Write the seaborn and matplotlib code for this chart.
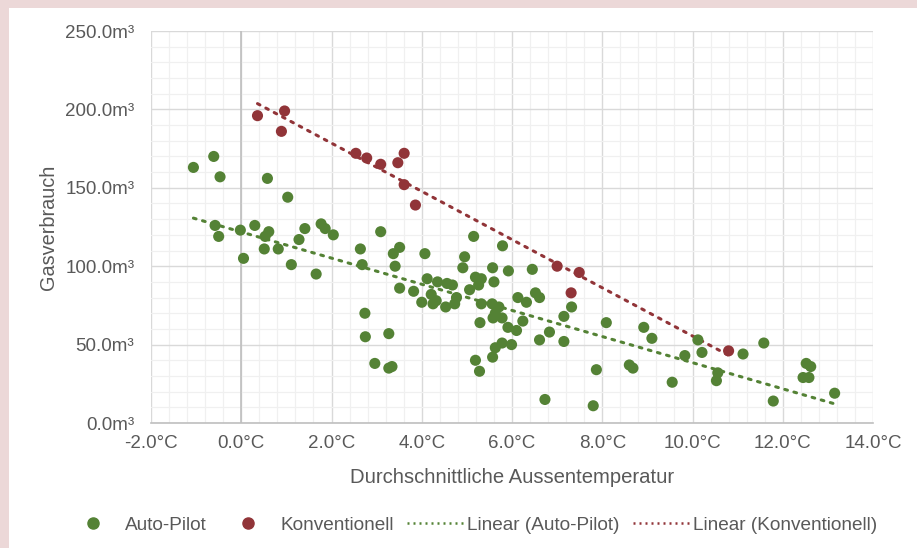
import matplotlib
matplotlib.use("Agg")
import matplotlib.pyplot as plt
from matplotlib.patches import Rectangle
from matplotlib.lines import Line2D
from matplotlib.ticker import FuncFormatter, MultipleLocator
import seaborn as sns
import numpy as np

# ---- data ----
auto_temp = [-1.06, -0.61, -0.47, 0.58, 1.03,
             -0.58, -0.50, -0.02, 0.30, 0.61, 0.53, 0.05, 0.51, 0.82, 1.11, 1.28, 1.41,
             1.66, 1.77, 1.86, 2.04, 2.64, 2.68, 2.74, 2.75, 2.96, 3.09, 3.27, 3.27, 3.34,
             3.37, 3.51, 3.41, 3.51, 3.82, 4.00, 4.07, 4.12, 4.21, 4.25, 4.32, 4.35, 4.53,
             4.56, 4.68, 4.73, 4.77, 4.95, 4.91, 5.06, 5.15, 5.19, 5.26, 5.32, 5.32, 5.29,
             5.19, 5.28, 5.56, 5.57, 5.60, 5.71, 5.58, 5.78, 5.63, 5.79, 5.92, 5.91, 6.10,
             6.13, 6.32, 6.24, 5.63, 5.78, 5.99, 5.57,
             6.45, 6.52, 6.61, 6.61, 6.83, 7.15, 7.32, 7.15, 6.73, 7.87, 7.80, 8.09, 8.60,
             8.68, 8.92, 9.10, 9.55, 9.83, 10.12, 10.21, 10.56, 10.53, 11.12, 11.58, 11.79,
             12.52, 12.62, 12.45, 12.58, 13.15]
auto_gas = [163, 170, 157, 156, 144,
            126, 119, 123, 126, 122, 119, 105, 111, 111, 101, 117, 124,
            95, 127, 124, 120, 111, 101, 70, 55, 38, 122, 57, 35, 36,
            108, 112, 100, 86, 84, 77, 108, 92, 82, 76, 78, 90, 74,
            89, 88, 76, 80, 106, 99, 85, 119, 93, 88, 92, 76, 64,
            40, 33, 76, 99, 90, 74, 67, 67, 70, 113, 97, 61, 59,
            80, 77, 65, 48, 51, 50, 42,
            98, 83, 80, 53, 58, 68, 74, 52, 15, 34, 11, 64, 37,
            35, 61, 54, 26, 43, 53, 45, 32, 27, 44, 51, 14,
            38, 36, 29, 29, 19]
konv_temp = [0.36, 0.96, 0.89, 2.54, 2.78, 3.09, 3.47, 3.61, 3.61, 3.86, 7.00, 7.49, 7.31, 10.80]
konv_gas = [196, 199, 186, 172, 169, 165, 166, 172, 152, 139, 100, 96, 83, 46]

series_names = ["Auto-Pilot", "Konventionell", "Linear (Auto-Pilot)", "Linear (Konventionell)"]
x_label = "Durchschnittliche Aussentemperatur"
y_label = "Gasverbrauch"

GREEN = "#548235"
RED = "#913438"
TXT = "#595959"

sns.set_theme(style="white")
plt.rcParams['font.family'] = ['Liberation Sans', 'DejaVu Sans']

fig = plt.figure(figsize=(9.17, 5.48), dpi=100)
fig.patch.set_facecolor("white")
# pink frame (top and left)
fig.patches.append(Rectangle((0, 1 - 8 / 548), 1, 8 / 548, transform=fig.transFigure,
                             facecolor="#ECD8D8", edgecolor="none", zorder=0))
fig.patches.append(Rectangle((0, 0), 9 / 917, 1, transform=fig.transFigure,
                             facecolor="#ECD8D8", edgecolor="none", zorder=0))

ax = fig.add_axes([151 / 917, 1 - 423 / 548, (873 - 151) / 917, (423 - 31) / 548])

ax.set_xlim(-2, 14)
ax.set_ylim(0, 250)
ax.xaxis.set_major_locator(MultipleLocator(2))
ax.xaxis.set_minor_locator(MultipleLocator(0.4))
ax.yaxis.set_major_locator(MultipleLocator(50))
ax.yaxis.set_minor_locator(MultipleLocator(10))
ax.grid(which="major", color="#D9D9D9", lw=1.0, zorder=0)
ax.grid(which="minor", color="#F0F0F0", lw=0.9, zorder=0)
ax.set_axisbelow(True)
ax.axvline(0, color="#BFBFBF", lw=1.2, zorder=1)

sns.regplot(x=auto_temp, y=auto_gas, scatter=False, ci=None, truncate=True, ax=ax,
            line_kws=dict(color=GREEN, lw=2.2, ls=(0, (0.9, 2.2)), dash_capstyle="round", zorder=2))
sns.regplot(x=konv_temp, y=konv_gas, scatter=False, ci=None, truncate=True, ax=ax,
            line_kws=dict(color=RED, lw=2.2, ls=(0, (0.9, 2.2)), dash_capstyle="round", zorder=2))
sns.scatterplot(x=auto_temp, y=auto_gas, ax=ax, color=GREEN, s=64, edgecolor="none", zorder=3)
sns.scatterplot(x=konv_temp, y=konv_gas, ax=ax, color=RED, s=64, edgecolor="none", zorder=3)

ax.set_xlim(-2, 14)
ax.set_ylim(0, 250)
ax.xaxis.set_major_formatter(FuncFormatter(lambda v, p: f"{v:.1f}°C"))
ax.yaxis.set_major_formatter(FuncFormatter(lambda v, p: f"{v:.1f}m³"))
ax.tick_params(axis="both", which="both", length=0, labelsize=13.5, labelcolor=TXT)
ax.tick_params(axis="x", pad=9)
ax.tick_params(axis="y", pad=12)
for side in ["top", "right", "left"]:
    ax.spines[side].set_visible(False)
ax.spines["bottom"].set_color("#BFBFBF")
ax.spines["bottom"].set_linewidth(1.2)

ax.set_xlabel(x_label, fontsize=14.6, color=TXT, labelpad=11)
ax.set_ylabel(y_label, fontsize=14.3, color=TXT, labelpad=5)

handles = [
    Line2D([], [], ls="none", marker="o", color=GREEN, markersize=8),
    Line2D([], [], ls="none", marker="o", color=RED, markersize=8),
    Line2D([], [], color=GREEN, lw=1.8, ls=(0, (0.8, 1.6))),
    Line2D([], [], color=RED, lw=1.8, ls=(0, (0.8, 1.6))),
]
leg = fig.legend(handles, series_names, loc="center", bbox_to_anchor=(471 / 917, 1 - 525 / 548),
                 ncol=4, frameon=False, fontsize=13.7, handlelength=2.95, handletextpad=0.22,
                 columnspacing=0.7)
for t in leg.get_texts():
    t.set_color(TXT)

fig.savefig("out.png", dpi=100)
